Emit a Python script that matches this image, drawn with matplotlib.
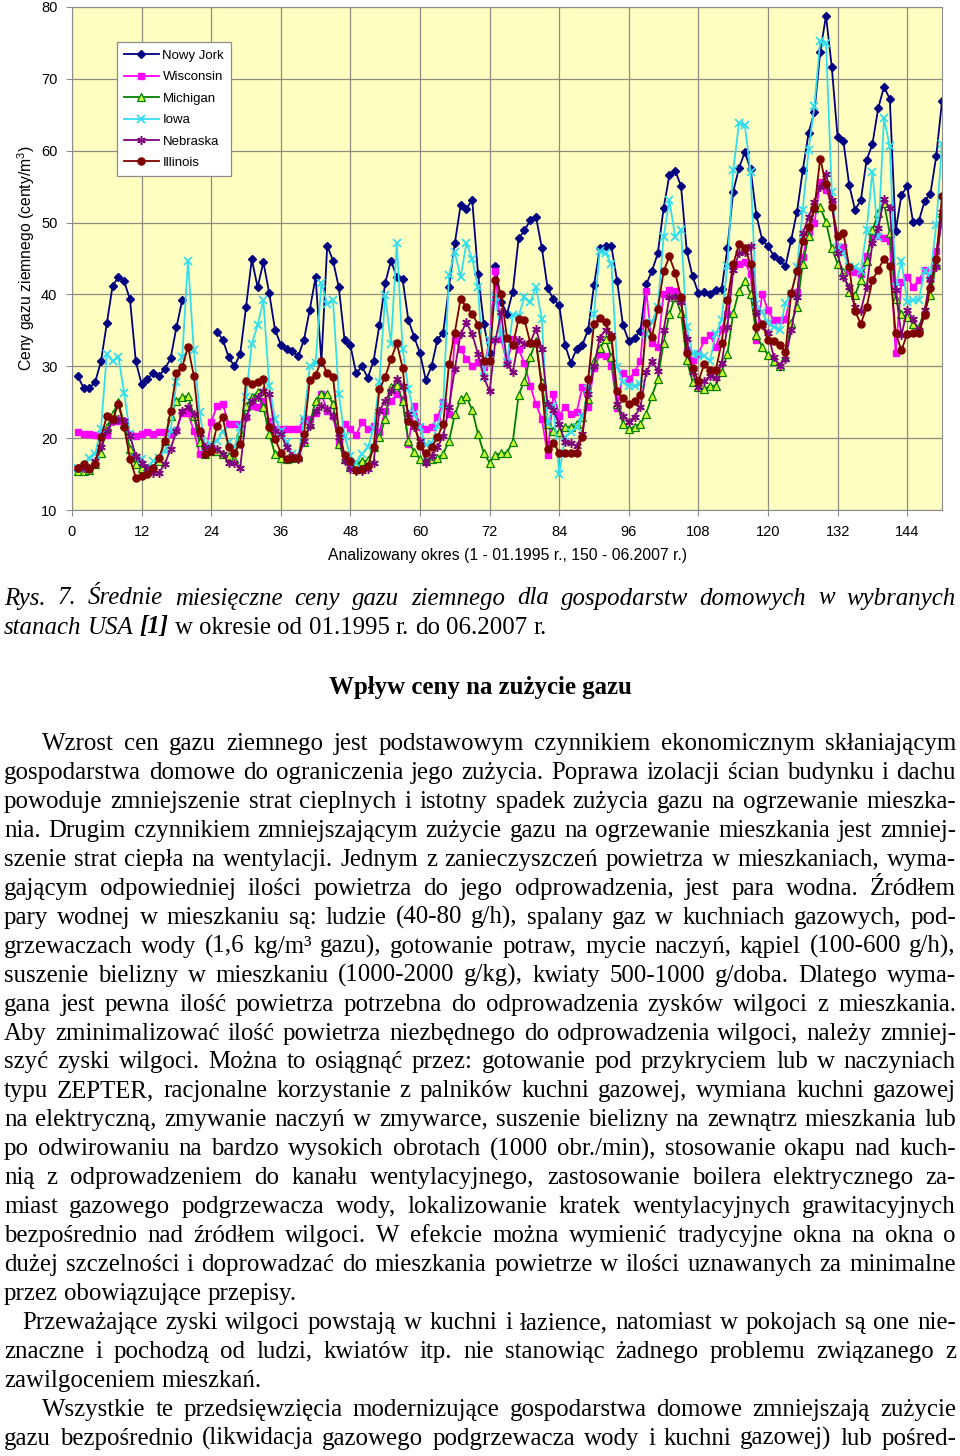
import numpy as np
import matplotlib
matplotlib.use('Agg')
import matplotlib.pyplot as plt

nan = np.nan

# months 1..150 (01.1995 - 06.2007), cents per m3
months = list(range(1, 151))

nowy_jork = [
    28.6, 27.0, 27.0, 27.8, 30.7, 36.0, 41.2, 42.4, 41.8, 39.3, 30.7, 27.5,
    28.2, 29.1, 28.7, 29.6, 31.1, 35.4, 39.2, nan, nan, nan, nan, nan,
    34.8, 33.7, 31.3, 30.0, 31.7, 38.2, 44.9, 41.0, 44.5, 40.2, 35.1, 33.0,
    32.4, 32.1, 31.4, 33.7, 37.9, 42.4, 30.6, 46.8, 44.7, 41.0, 33.6, 32.9,
    29.0, 30.0, 28.4, 30.8, 35.7, 41.6, 44.7, 42.4, 42.1, 36.4, 34.1, 31.8,
    28.1, 30.0, 33.7, 34.7, 41.1, 47.1, 52.4, 51.9, 53.2, 42.9, 35.9, 31.8,
    44.0, 39.0, 37.3, 40.4, 47.8, 48.9, 50.3, 50.8, 46.5, 40.9, 39.3, 38.5,
    33.0, 30.5, 32.4, 33.0, 35.1, 41.3, 46.4, 46.7, 46.7, 41.8, 35.7, 33.5,
    34.0, 34.9, 41.4, 43.3, 45.7, 52.0, 56.6, 57.2, 55.1, 46.0, 42.5, 40.2,
    40.3, 40.1, 40.6, 40.7, 46.4, 54.3, 57.6, 59.8, 57.4, 51.0, 47.6, 46.7,
    45.4, 44.8, 43.9, 47.6, 51.5, 57.3, 62.5, 65.4, 73.7, 78.8, 71.6, 61.9,
    61.3, 55.2, 51.8, 53.1, 58.7, 60.9, 65.9, 68.9, 67.2, 48.8, 53.8, 55.1,
    50.1, 50.2, 53.0, 54.0, 59.2, 66.9]

wisconsin = [
    20.9, 20.6, 20.6, 20.4, 20.4, 20.5, 22.4, 22.4, 22.4, 20.6, 20.3, 20.6,
    20.8, 20.6, 20.8, 20.9, 20.6, 21.2, 23.5, 23.5, 21.0, 17.8, 17.8, 22.2,
    24.5, 24.7, 22.0, 21.9, 21.9, 22.9, 24.5, 24.3, 25.2, 22.4, 21.3, 21.3,
    21.3, 21.3, 21.3, 22.5, 22.6, 23.5, 26.1, 23.8, 23.1, 19.4, 22.0, 21.3,
    20.5, 22.2, 21.3, 21.7, 20.9, 23.8, 25.2, 26.1, 25.4, 19.2, 24.5, 21.6,
    21.3, 21.5, 22.9, 25.0, 23.3, 33.7, 32.4, 31.0, 30.1, 30.6, 29.9, 33.6,
    43.3, 33.8, 30.4, 33.8, 32.4, 30.4, 27.3, 24.7, 22.7, 17.6, 26.2, 23.1,
    24.4, 23.3, 23.6, 27.1, 24.4, 29.7, 31.7, 31.5, 30.1, 24.2, 29.0, 28.2,
    29.2, 30.7, 40.5, 33.2, 32.7, 40.0, 40.6, 40.5, 39.2, 32.2, 30.9, 31.7,
    33.6, 34.3, 32.7, 35.2, 37.3, 44.0, 44.3, 44.5, 42.8, 33.6, 40.1, 37.8,
    36.4, 36.4, 36.6, 40.1, 40.3, 45.2, 48.7, 49.9, 55.7, 54.6, 52.7, 46.6,
    46.6, 43.3, 43.1, 42.9, 45.4, 47.9, 48.1, 47.9, 47.5, 31.8, 41.7, 42.4,
    41.1, 42.0, 43.4, 42.2, 46.1, 50.0]

michigan = [
    15.4, 15.4, 15.6, 16.4, 18.0, 21.5, 23.3, 25.0, 22.0, 18.5, 16.4, 15.9,
    15.9, 15.9, 16.8, 19.6, 23.1, 25.2, 25.7, 25.9, 23.1, 19.4, 17.8, 18.2,
    18.2, 17.8, 17.5, 17.1, 20.8, 24.5, 25.7, 26.4, 24.3, 20.6, 17.8, 17.3,
    17.1, 17.3, 17.5, 19.5, 22.0, 25.2, 26.1, 26.1, 24.8, 19.2, 17.1, 16.1,
    16.4, 16.8, 16.9, 18.7, 20.1, 22.7, 27.1, 27.4, 25.2, 19.6, 18.1, 17.1,
    16.8, 17.1, 17.2, 17.8, 19.6, 23.3, 25.4, 25.8, 23.9, 20.6, 17.9, 16.6,
    17.7, 17.9, 18.0, 19.5, 26.0, 28.0, 31.3, 33.5, 27.8, 22.0, 21.0, 20.8,
    21.5, 21.6, 22.0, 23.0, 25.4, 30.8, 32.5, 33.8, 31.3, 24.7, 22.0, 21.3,
    21.6, 22.0, 23.4, 25.9, 28.2, 33.3, 37.3, 39.7, 37.4, 30.9, 27.8, 27.1,
    26.8, 27.3, 27.3, 29.2, 31.7, 37.4, 40.5, 41.9, 40.1, 34.4, 32.7, 31.6,
    30.7, 30.1, 31.3, 36.0, 38.2, 44.3, 48.2, 52.0, 52.1, 50.1, 46.4, 44.3,
    43.1, 40.3, 39.9, 42.0, 44.7, 48.9, 51.3, 52.7, 48.5, 39.3, 37.3, 36.8,
    35.9, 35.4, 37.8, 39.9, 44.3, 51.3]

iowa = [
    15.8, 15.8, 17.3, 17.8, 21.3, 31.7, 30.7, 31.3, 26.3, 20.6, 17.3, 17.1,
    15.9, 16.8, 17.3, 18.2, 21.0, 27.8, 31.3, 44.7, 32.2, 23.6, 18.7, 19.2,
    19.6, 21.0, 19.4, 18.7, 21.5, 25.7, 33.1, 35.7, 39.2, 27.3, 22.7, 21.0,
    19.4, 17.8, 17.3, 22.7, 30.0, 30.5, 41.6, 38.7, 39.2, 26.1, 20.3, 17.5,
    16.6, 17.8, 18.7, 21.3, 27.8, 39.9, 33.1, 47.2, 32.4, 26.8, 23.3, 21.5,
    19.0, 19.2, 21.7, 24.7, 42.7, 45.9, 42.4, 47.1, 45.0, 41.0, 28.5, 33.6,
    39.6, 34.5, 30.6, 37.2, 37.0, 39.6, 38.9, 41.0, 36.6, 22.0, 24.5, 15.0,
    20.1, 20.8, 21.5, 22.9, 26.8, 37.3, 46.1, 45.7, 44.3, 29.9, 27.8, 27.3,
    27.3, 27.5, 34.5, 36.1, 38.2, 48.0, 53.1, 48.0, 48.9, 35.4, 31.7, 31.7,
    31.5, 30.8, 34.5, 36.4, 44.0, 57.3, 63.8, 63.6, 57.0, 38.7, 37.5, 36.0,
    35.5, 35.0, 38.8, 40.0, 43.8, 51.8, 60.1, 66.2, 75.3, 75.0, 54.3, 46.6,
    45.7, 43.8, 43.8, 43.3, 48.9, 57.1, 48.0, 64.5, 60.6, 41.0, 44.7, 38.9,
    39.2, 39.2, 43.3, 42.7, 49.6, 61.0]

nebraska = [
    15.9, 15.9, 15.9, 16.8, 18.7, 21.0, 22.4, 22.6, 22.4, 20.3, 17.5, 16.6,
    15.9, 15.2, 15.2, 16.4, 18.5, 21.0, 23.8, 24.3, 23.3, 20.6, 18.7, 18.7,
    18.5, 17.8, 16.6, 16.6, 15.9, 22.9, 25.2, 25.7, 26.6, 26.1, 21.0, 20.6,
    18.7, 17.5, 17.1, 19.6, 21.7, 23.8, 24.5, 24.0, 23.1, 20.1, 16.8, 15.7,
    15.4, 15.4, 15.7, 16.6, 23.8, 25.2, 26.6, 28.2, 27.3, 23.3, 21.5, 19.6,
    16.6, 17.5, 18.7, 20.3, 24.3, 29.6, 34.5, 36.1, 34.5, 31.7, 28.5, 26.5,
    33.6, 37.5, 30.3, 29.2, 33.6, 33.1, 33.3, 35.2, 32.4, 24.7, 23.9, 21.9,
    19.5, 19.3, 18.9, 20.6, 26.1, 30.0, 34.0, 35.0, 34.3, 24.7, 23.1, 22.3,
    23.0, 24.3, 29.2, 30.7, 29.4, 35.0, 39.6, 39.7, 38.9, 33.8, 29.2, 27.1,
    27.9, 28.6, 28.4, 30.4, 35.5, 43.4, 45.7, 45.9, 46.7, 37.6, 35.7, 34.6,
    31.3, 30.1, 31.0, 35.0, 39.6, 48.5, 50.8, 52.9, 55.0, 56.8, 53.1, 45.7,
    42.4, 41.0, 38.2, 37.7, 41.0, 47.1, 49.2, 53.3, 52.0, 40.6, 34.3, 37.8,
    36.6, 35.0, 37.8, 42.2, 43.8, 51.5]

illinois = [
    15.9, 16.4, 15.7, 16.4, 20.1, 23.1, 22.6, 24.7, 21.5, 17.1, 14.5, 14.8,
    15.0, 15.9, 17.3, 19.6, 23.8, 29.0, 29.9, 32.7, 28.7, 21.0, 17.8, 18.2,
    21.7, 22.9, 18.7, 18.0, 19.2, 28.0, 27.6, 27.8, 28.2, 21.5, 19.9, 18.0,
    17.1, 17.3, 17.3, 20.6, 28.1, 28.8, 30.8, 29.0, 28.5, 21.1, 17.7, 16.8,
    15.5, 15.7, 16.1, 18.7, 26.8, 28.5, 31.0, 33.2, 29.8, 22.4, 22.0, 18.9,
    18.0, 18.7, 20.1, 22.0, 30.3, 34.7, 39.4, 38.2, 37.3, 35.8, 30.8, 30.8,
    42.0, 40.0, 34.0, 32.9, 36.6, 36.5, 33.3, 33.3, 27.1, 18.5, 19.3, 18.0,
    18.0, 17.9, 18.0, 20.2, 28.2, 35.9, 36.7, 36.1, 34.1, 26.5, 25.6, 24.7,
    25.1, 26.0, 36.0, 34.1, 38.0, 43.2, 45.3, 43.0, 39.6, 31.8, 29.8, 27.9,
    30.3, 29.5, 29.5, 33.3, 39.2, 44.2, 47.0, 46.5, 44.2, 35.4, 35.9, 33.6,
    33.5, 33.0, 32.0, 40.2, 43.3, 47.5, 49.4, 52.0, 58.9, 55.3, 52.2, 48.2,
    48.5, 43.8, 37.7, 35.9, 38.2, 42.0, 43.4, 45.0, 43.9, 34.7, 32.2, 34.5,
    34.7, 34.6, 37.1, 40.9, 45.0, 53.7]

x_ticks = list(range(0, 145, 12))
y_ticks = list(range(10, 81, 10))

caption_1 = "Rys. 7. Średnie miesięczne ceny gazu ziemnego dla gospodarstw domowych w wybranych"
heading = "Wpływ ceny na zużycie gazu"

# (text, left x, justified)
body = [
    ("Wzrost cen gazu ziemnego jest podstawowym czynnikiem ekonomicznym skłaniającym", 42, True),
    ("gospodarstwa domowe do ograniczenia jego zużycia. Poprawa izolacji ścian budynku i dachu", 4, True),
    ("powoduje zmniejszenie strat cieplnych i istotny spadek zużycia gazu na ogrzewanie mieszka-", 4, True),
    ("nia. Drugim czynnikiem zmniejszającym zużycie gazu na ogrzewanie mieszkania jest zmniej-", 4, True),
    ("szenie strat ciepła na wentylacji. Jednym z zanieczyszczeń powietrza w mieszkaniach, wyma-", 4, True),
    ("gającym odpowiedniej ilości powietrza do jego odprowadzenia, jest para wodna. Źródłem", 4, True),
    ("pary wodnej w mieszkaniu są: ludzie (40-80 g/h), spalany gaz w kuchniach gazowych, pod-", 4, True),
    ("grzewaczach wody (1,6 kg/m³ gazu), gotowanie potraw, mycie naczyń, kąpiel (100-600 g/h),", 4, True),
    ("suszenie bielizny w mieszkaniu (1000-2000 g/kg), kwiaty 500-1000 g/doba. Dlatego wyma-", 4, True),
    ("gana jest pewna ilość powietrza potrzebna do odprowadzenia zysków wilgoci z mieszkania.", 4, True),
    ("Aby zminimalizować ilość powietrza niezbędnego do odprowadzenia wilgoci, należy zmniej-", 4, True),
    ("szyć zyski wilgoci. Można to osiągnąć przez: gotowanie pod przykryciem lub w naczyniach", 4, True),
    ("typu ZEPTER, racjonalne korzystanie z palników kuchni gazowej, wymiana kuchni gazowej", 4, True),
    ("na elektryczną, zmywanie naczyń w zmywarce, suszenie bielizny na zewnątrz mieszkania lub", 4, True),
    ("po odwirowaniu na bardzo wysokich obrotach (1000 obr./min), stosowanie okapu nad kuch-", 4, True),
    ("nią z odprowadzeniem do kanału wentylacyjnego, zastosowanie boilera elektrycznego za-", 4, True),
    ("miast gazowego podgrzewacza wody, lokalizowanie kratek wentylacyjnych grawitacyjnych", 4, True),
    ("bezpośrednio nad źródłem wilgoci. W efekcie można wymienić tradycyjne okna na okna o", 4, True),
    ("dużej szczelności i doprowadzać do mieszkania powietrze w ilości uznawanych za minimalne", 4, True),
    ("przez obowiązujące przepisy.", 4, False),
    ("Przeważające zyski wilgoci powstają w kuchni i łazience, natomiast w pokojach są one nie-", 22, True),
    ("znaczne i pochodzą od ludzi, kwiatów itp. nie stanowiąc żadnego problemu związanego z", 4, True),
    ("zawilgoceniem mieszkań.", 4, False),
    ("Wszystkie te przedsięwzięcia modernizujące gospodarstwa domowe zmniejszają zużycie", 42, True),
    ("gazu bezpośrednio (likwidacja gazowego podgrzewacza wody i kuchni gazowej) lub pośred-", 4, True),
]

W, H = 960, 1456
fig = plt.figure(figsize=(W / 100, H / 100), dpi=100)
fig.patch.set_facecolor('white')

sans = 'Liberation Sans'
serif = 'Liberation Serif'
plt.rcParams['mathtext.fontset'] = 'custom'
plt.rcParams['mathtext.rm'] = sans

# ---- chart ----
ax = fig.add_axes([72 / W, 1 - 510 / H, 870 / W, 503 / H])
ax.set_facecolor('#FFFFC2')

ax.plot(months, nowy_jork, color='#000080', marker='D', ms=4.3, lw=1.3, label='Nowy Jork')
ax.plot(months, wisconsin, color='#FF00FF', marker='s', ms=4.7, lw=1.3, label='Wisconsin')
ax.plot(months, michigan, color='#008000', marker='^', ms=5.2, lw=1.3,
        mfc='#CCFF33', mec='#008000', mew=0.9, label='Michigan')
ax.plot(months, iowa, color='#33DDEE', marker='x', ms=5.6, mew=1.3, lw=1.3, label='Iowa')
ax.plot(months, nebraska, color='#800080', marker=(6, 2, 0), ms=6.2, mew=1.1, lw=1.3, label='Nebraska')
ax.plot(months, illinois, color='#800000', marker='o', ms=5.1, lw=1.3, label='Illinois')

ax.set_xlim(0, 150)
ax.set_ylim(10, 80)
ax.set_xticks(x_ticks)
ax.set_yticks(y_ticks)
ax.grid(True, color='#8C8C80', lw=0.9)
ax.set_axisbelow(True)
for s in ax.spines.values():
    s.set_color('#8C8C8C')
ax.tick_params(labelsize=10.5, length=4.5, color='#8C8C8C', pad=6)
for lab in ax.get_xticklabels() + ax.get_yticklabels():
    lab.set_family(sans)
ax.set_xlabel('Analizowany okres (1 - 01.1995 r., 150 - 06.2007 r.)', family=sans, fontsize=11.3, labelpad=7)
ax.set_ylabel('Ceny gazu ziemnego (centy/m$^3$)', family=sans, fontsize=11.3, labelpad=3)

leg = ax.legend(loc='upper left', bbox_to_anchor=(0.0517, 0.930), borderaxespad=0,
                prop={'family': sans, 'size': 9.5},
                frameon=True, fancybox=False, framealpha=1, edgecolor='#8C8C8C',
                handlelength=2.6, labelspacing=0.7, borderpad=0.55, handletextpad=0.3)
leg.get_frame().set_linewidth(0.9)

# ---- page text ----
tx = fig.add_axes([0, 0, 1, 1])
tx.set_xlim(0, W)
tx.set_ylim(H, 0)
tx.axis('off')

fs = 17.9
space = 0.25 * fs * 100 / 72
rend = fig.canvas.get_renderer()


def place(pieces, x0, y, x1=None):
    # pieces: list of (word, style, weight); justify when x1 is given
    ts = [tx.text(0, y, w, family=serif, fontsize=fs, style=st, weight=wt, va='baseline')
          for w, st, wt in pieces]
    ws = [t.get_window_extent(rend).width for t in ts]
    gap = space
    if x1 is not None and len(ts) > 1:
        gap = (x1 - x0 - sum(ws)) / (len(ts) - 1)
    x = x0
    for t, w in zip(ts, ws):
        t.set_x(x)
        x += w + gap


place([(w, 'italic', 'normal') for w in caption_1.split()], 4, 604.5, 956)
cap2 = [(w, 'italic', 'normal') for w in "stanach USA".split()]
cap2 += [("[1]", 'italic', 'bold')]
cap2 += [(w, 'normal', 'normal') for w in "w okresie od 01.1995 r. do 06.2007 r.".split()]
place(cap2, 4, 633.5)

tx.text(480, 694, heading, family=serif, fontsize=fs, weight='bold', ha='center', va='baseline')

y = 750
for line, x0, just in body:
    place([(w, 'normal', 'normal') for w in line.split()], x0, y, 956 if just else None)
    y += 28.95

fig.savefig('out.png', dpi=100)
